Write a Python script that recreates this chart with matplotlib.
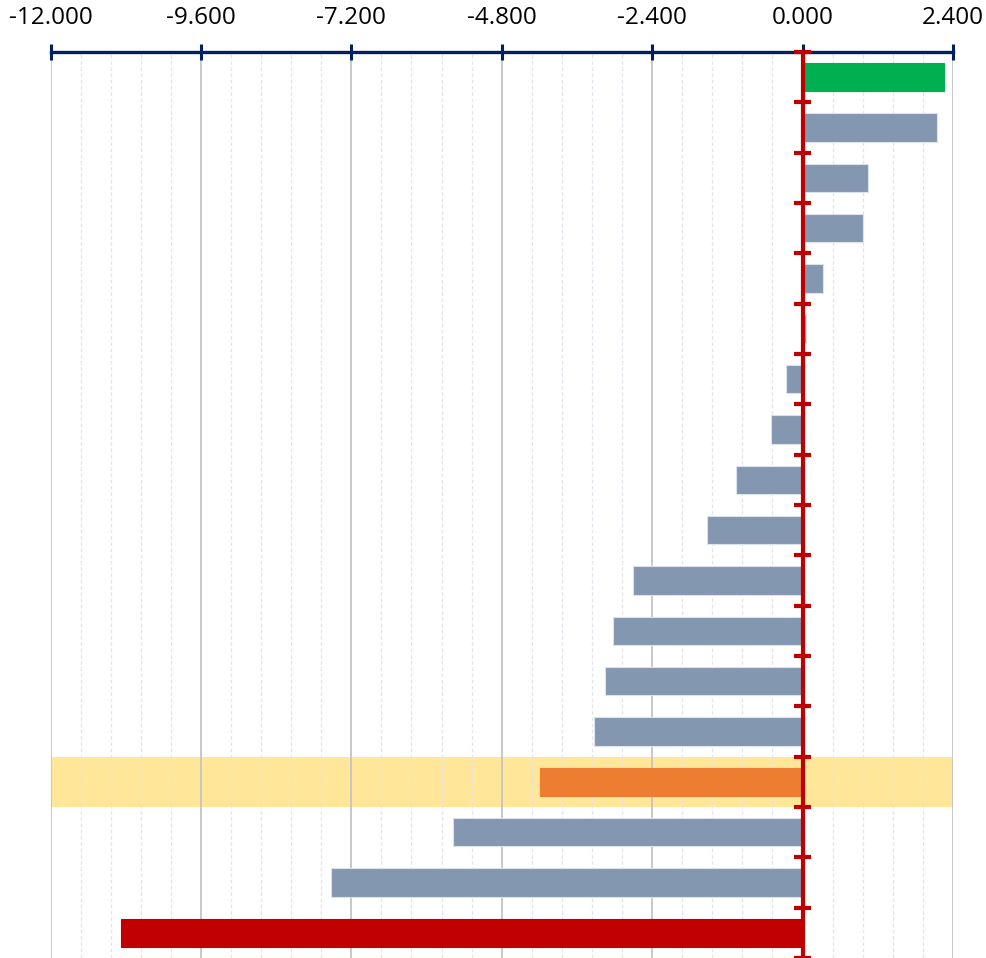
import numpy as np
import matplotlib.pyplot as plt
from matplotlib.ticker import MultipleLocator, FuncFormatter

# values per row, top to bottom
values = [2.26, 2.14, 1.04, 0.96, 0.33, 0.05, -0.27, -0.51, -1.07, -1.53,
          -2.71, -3.03, -3.16, -3.33, -4.19, -5.58, -7.53, -10.88]
colors = ['#00B050'] + ['#8497B0'] * 13 + ['#ED7D31', '#8497B0', '#8497B0', '#C00000']
edge_colors = ['#00B050'] + ['#DCE2EB'] * 13 + ['#ED7D31', '#DCE2EB', '#DCE2EB', '#C00000']
highlight_row = 14

xmin, xmax = -12.0, 2.4
major_step = 2.4
minor_step = 0.48

plt.rcParams['font.family'] = ['Open Sans', 'DejaVu Sans']

fig = plt.figure(figsize=(9.87, 9.58), dpi=100)
ax = fig.add_axes([50.5 / 987, 0, (953 - 50.5) / 987, 906 / 958])

y = np.arange(len(values))

# highlighted band behind one row
ax.axhspan(highlight_row - 0.5, highlight_row + 0.5, color='#FFE699', zorder=0.5, lw=0)

ax.barh(y, values, height=0.56, color=colors, edgecolor=edge_colors, linewidth=0.8, zorder=2)

ax.set_xlim(xmin, xmax)
ax.set_ylim(len(values) - 0.5, -0.5)


def fmt(v, pos):
    v = round(v, 6)
    if v == 0:
        v = 0.0
    return f'{v:.3f}'


# grid
ax.xaxis.set_major_locator(MultipleLocator(major_step))
ax.xaxis.set_minor_locator(MultipleLocator(minor_step))
ax.xaxis.set_major_formatter(FuncFormatter(fmt))
ax.grid(which='major', axis='x', color='#C4C4C4', lw=1.3, zorder=0)
ax.grid(which='minor', axis='x', color='#E4E4EC', lw=0.9, ls=(0, (3, 2)), zorder=0)
ax.set_axisbelow(True)

# axis on top
ax.xaxis.tick_top()
ax.tick_params(axis='x', which='major', direction='inout', length=12, width=2.2,
               color='#002060', labelsize=17.5, pad=10)
ax.tick_params(axis='x', which='minor', length=0)
ax.tick_params(axis='y', left=False, labelleft=False)
for side in ['left', 'right', 'bottom']:
    ax.spines[side].set_visible(False)
ax.spines['top'].set_color('#002060')
ax.spines['top'].set_linewidth(2.4)

# zero line with row separators
ax.axvline(0, color='#C00000', lw=3, zorder=3)
ax.hlines(np.arange(len(values) + 1) - 0.5, -0.13, 0.13, color='#C00000', lw=3, zorder=3,
          clip_on=False)

fig.savefig('out.png', dpi=100)
